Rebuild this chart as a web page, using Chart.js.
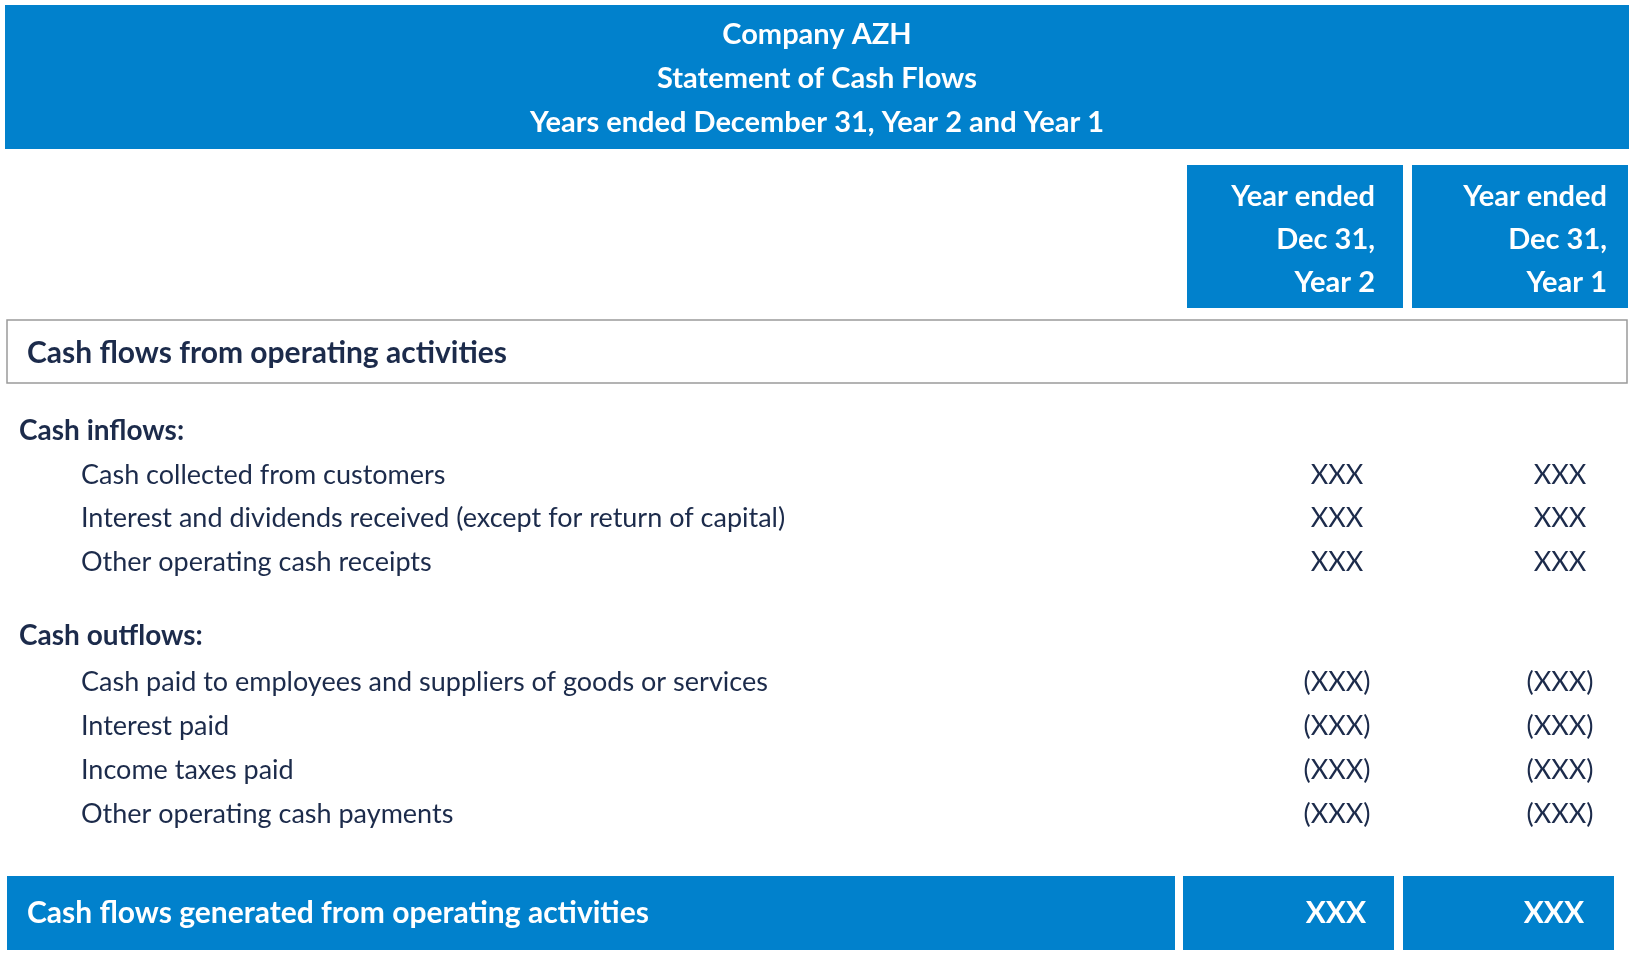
<!DOCTYPE html>
<html>
<head>
<meta charset="utf-8">
<script src="https://cdn.jsdelivr.net/npm/chart.js@4"></script>
<style>body{margin:0;background:#fff}canvas{display:block}</style>
</head>
<body>
<canvas id="c" width="1635" height="962"></canvas>
<script>
const titleLines = ["Company AZH", "Statement of Cash Flows", "Years ended December 31, Year 2 and Year 1"];
const colHeaders = [["Year ended", "Dec 31,", "Year 2"], ["Year ended", "Dec 31,", "Year 1"]];
const sectionTitle = "Cash flows from operating activities";
const inflowLabels = ["Cash collected from customers", "Interest and dividends received (except for return of capital)", "Other operating cash receipts"];
const inflowYear2 = ["XXX", "XXX", "XXX"];
const inflowYear1 = ["XXX", "XXX", "XXX"];
const outflowLabels = ["Cash paid to employees and suppliers of goods or services", "Interest paid", "Income taxes paid", "Other operating cash payments"];
const outflowYear2 = ["(XXX)", "(XXX)", "(XXX)", "(XXX)"];
const outflowYear1 = ["(XXX)", "(XXX)", "(XXX)", "(XXX)"];
const totalLabel = "Cash flows generated from operating activities";
const totalYear2 = "XXX";
const totalYear1 = "XXX";

const blue = "#0181cc";
const navy = "#1c2b4b";
const font = "Lato, 'Noto Sans', sans-serif";

const tablePlugin = {
	id: "table",
	afterDraw(chart) {
		const ctx = chart.ctx;
		const x = v => chart.scales.x.getPixelForValue(v);
		const y = v => chart.scales.y.getPixelForValue(v);
		const box = (x0, y0, x1, y1, fill) => {
			ctx.fillStyle = fill;
			ctx.fillRect(x(x0), y(y0), x(x1) - x(x0), y(y1) - y(y0));
		};
		const text = (s, tx, ty, align, color, size, bold) => {
			ctx.font = (bold ? "bold " : "") + size + "px " + font;
			ctx.fillStyle = color;
			ctx.textAlign = align;
			ctx.textBaseline = "middle";
			ctx.fillText(s, x(tx), y(ty));
		};
		ctx.save();
		// header
		box(5, 5, 1629, 149, blue);
		titleLines.forEach((s, i) => text(s, 817, 35 + i * 44, "center", "#fff", 29, true));
		// column headers
		[[1187, 1403, 1375], [1412, 1628, 1607]].forEach((c, k) => {
			box(c[0], 165, c[1], 308, blue);
			colHeaders[k].forEach((s, i) => text(s, c[2], 197 + i * 43, "right", "#fff", 29, true));
		});
		// section box
		ctx.strokeStyle = "#9a9a9a";
		ctx.lineWidth = 1.5;
		ctx.strokeRect(x(7), y(320), x(1627) - x(7), y(383) - y(320));
		text(sectionTitle, 27, 353, "left", navy, 30, true);
		// inflows
		text("Cash inflows:", 19, 431, "left", navy, 28, true);
		inflowLabels.forEach((s, i) => {
			const ry = 475 + i * 43.5;
			text(s, 81, ry, "left", navy, 27, false);
			text(inflowYear2[i], 1337, ry, "center", navy, 27, false);
			text(inflowYear1[i], 1560, ry, "center", navy, 27, false);
		});
		// outflows
		text("Cash outflows:", 19, 636, "left", navy, 28, true);
		outflowLabels.forEach((s, i) => {
			const ry = 682 + i * 44;
			text(s, 81, ry, "left", navy, 27, false);
			text(outflowYear2[i], 1337, ry, "center", navy, 27, false);
			text(outflowYear1[i], 1560, ry, "center", navy, 27, false);
		});
		// total
		box(7, 876, 1175, 950, blue);
		box(1183, 876, 1394, 950, blue);
		box(1403, 876, 1614, 950, blue);
		text(totalLabel, 27, 913, "left", "#fff", 30, true);
		text(totalYear2, 1366, 913, "right", "#fff", 30, true);
		text(totalYear1, 1584, 913, "right", "#fff", 30, true);
		ctx.restore();
	}
};

new Chart(document.getElementById("c").getContext("2d"), {
	type: "scatter",
	data: { datasets: [{ data: [] }] },
	options: {
		responsive: false,
		animation: false,
		devicePixelRatio: 1,
		layout: { padding: 0 },
		plugins: { legend: { display: false }, tooltip: { enabled: false } },
		scales: {
			x: { type: "linear", min: 0, max: 1635, display: false },
			y: { type: "linear", min: 0, max: 962, reverse: true, display: false }
		}
	},
	plugins: [tablePlugin]
});
</script>
</body>
</html>
